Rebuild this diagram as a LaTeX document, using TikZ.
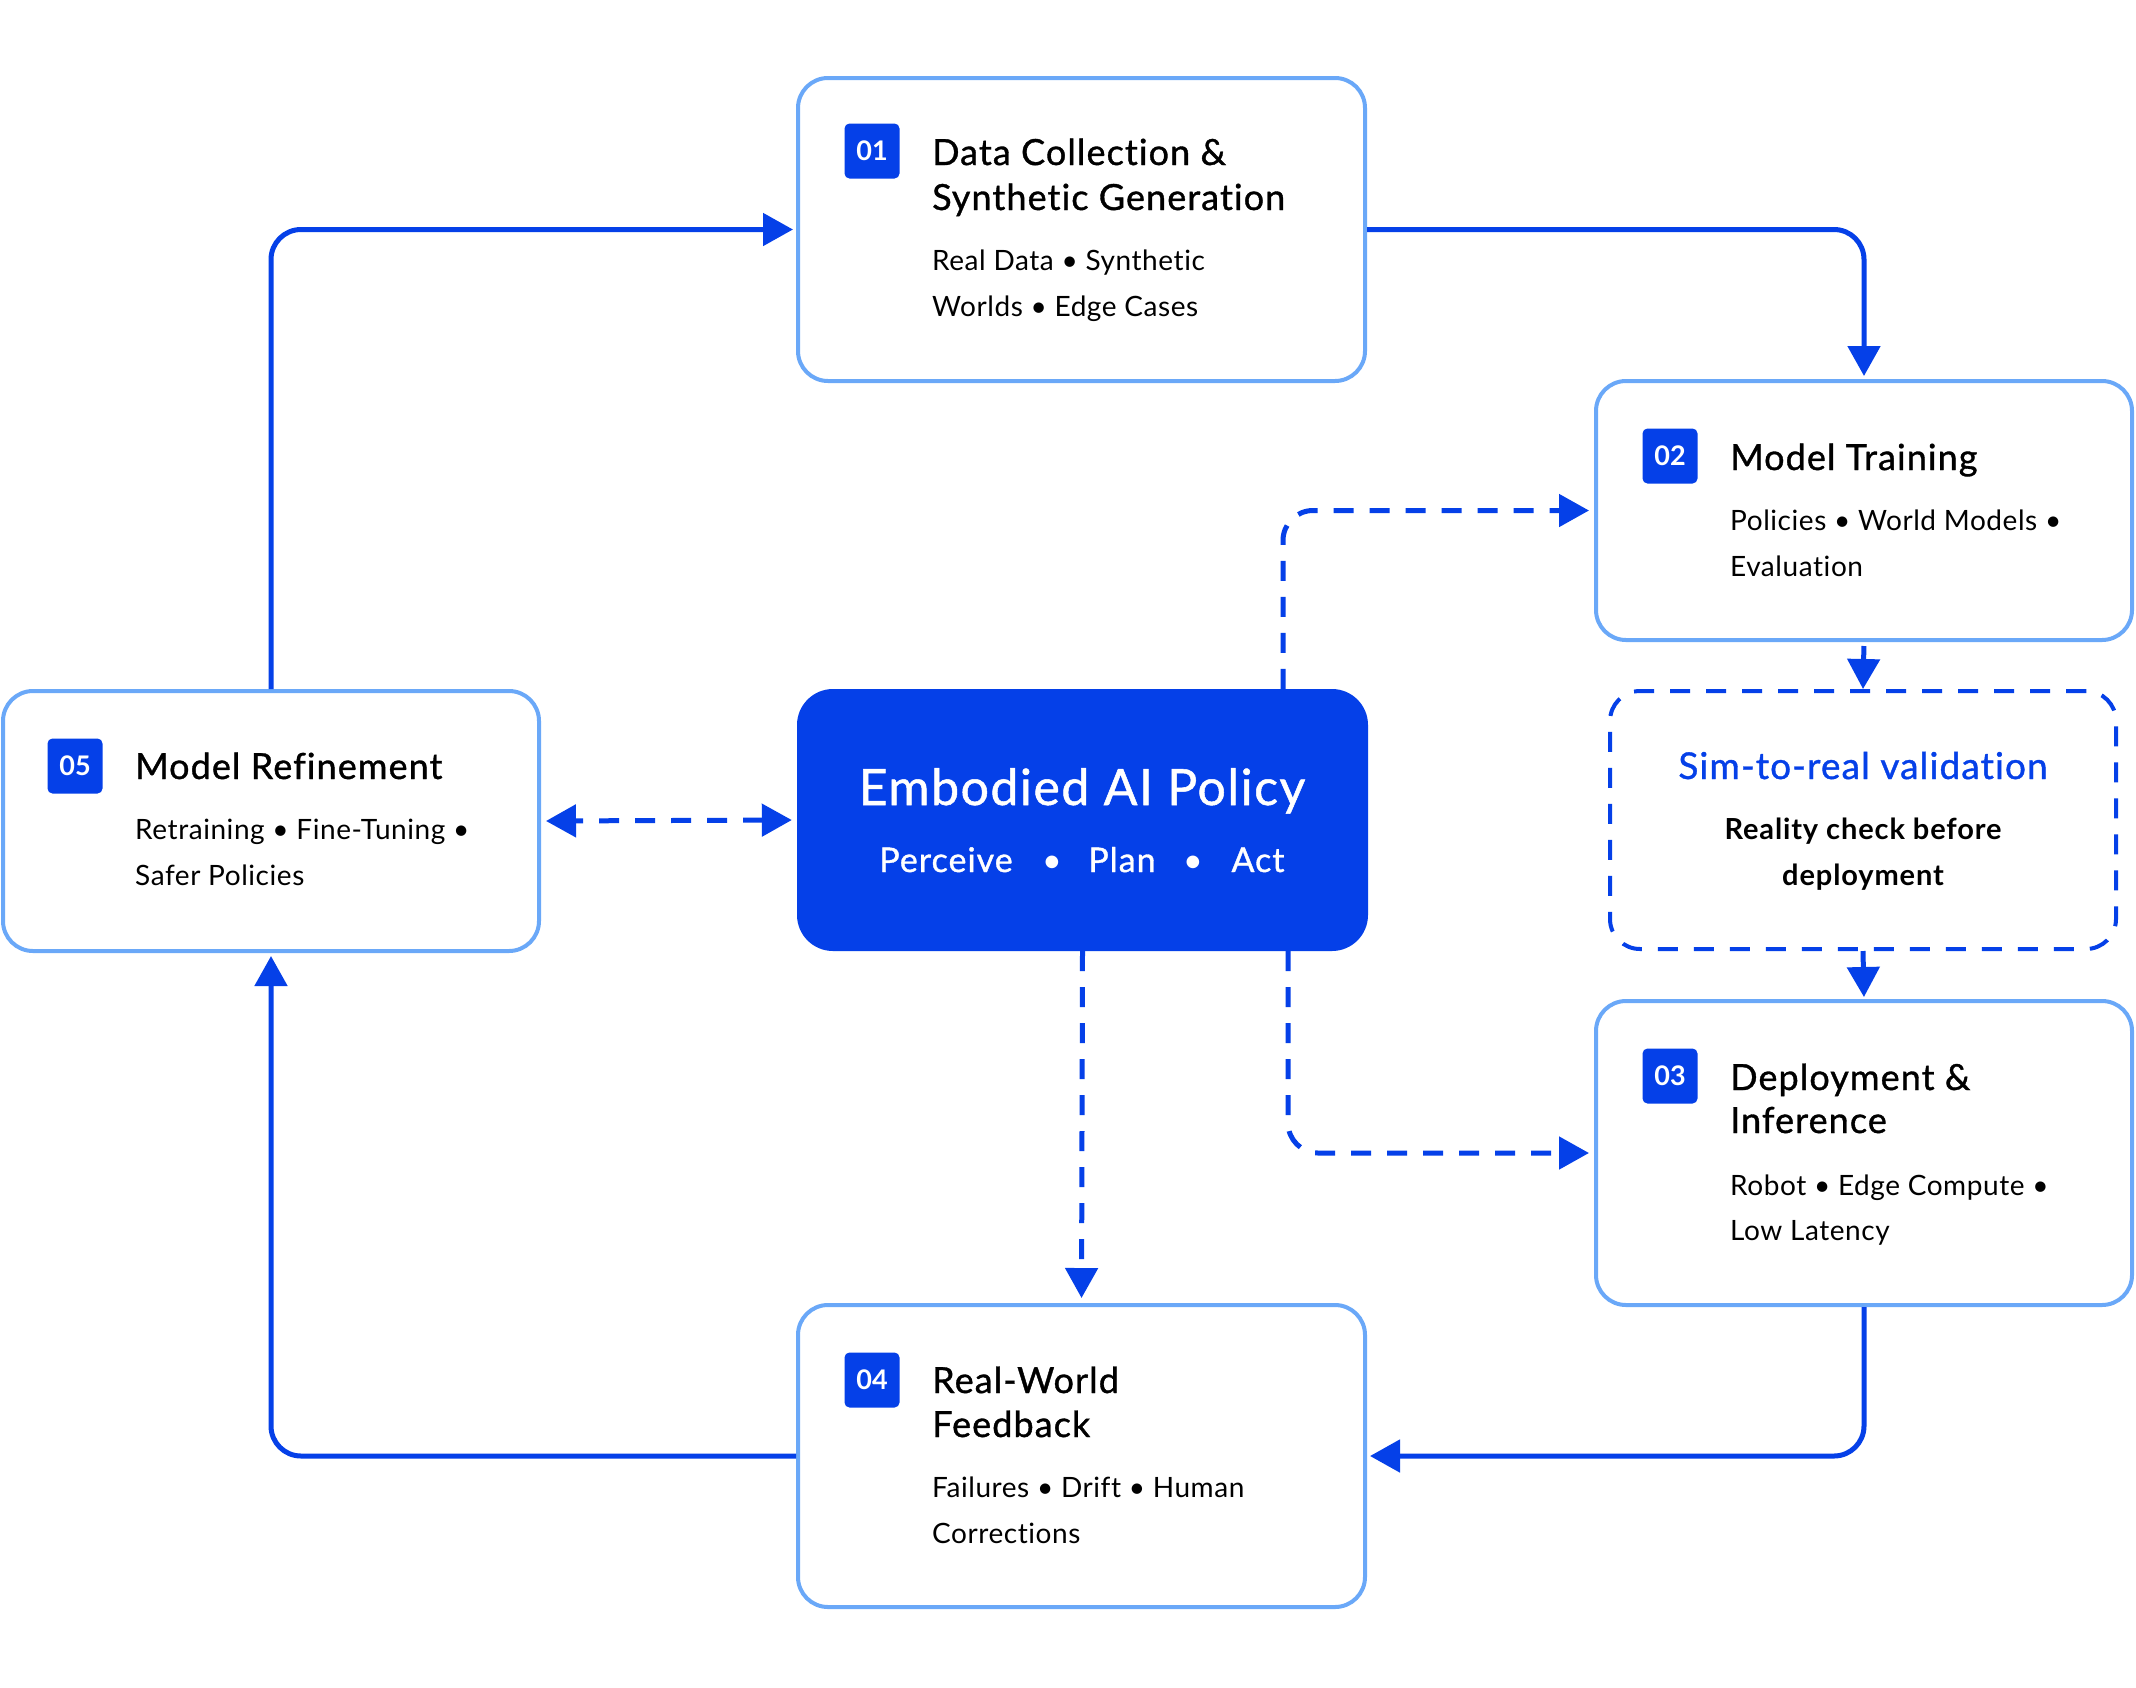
\documentclass[tikz,border=0pt]{standalone}
\usepackage{fontspec}
\setmainfont{Lato}[Ligatures=NoCommon]
\newfontfamily\medfont[FakeBold=1, LetterSpace=3, Ligatures=NoCommon]{Lato}
\newfontfamily\subfont[LetterSpace=2, Ligatures=NoCommon]{Lato}
\newfontfamily\boldfont[LetterSpace=3, Ligatures=NoCommon]{Lato Bold}
\usetikzlibrary{arrows.meta}
\definecolor{mainblue}{HTML}{0540E8}
\definecolor{lightblue}{HTML}{6AA8F8}
\begin{document}
\begin{tikzpicture}[x=1pt,y=-1pt,
  card/.style={draw=lightblue, line width=4pt, rounded corners=30pt, fill=white, inner sep=0pt},
  badge/.style={fill=mainblue, rounded corners=5pt, minimum width=55pt, minimum height=55pt, inner sep=0pt, text=white, font=\bfseries\fontsize{27}{27}\selectfont},
  ttl/.style={anchor=base west, inner sep=0pt, font=\medfont\fontsize{36}{40}\selectfont},
  sub/.style={anchor=base west, inner sep=0pt, font=\subfont\fontsize{28}{30}\selectfont},
  flow/.style={draw=mainblue, line width=5pt, rounded corners=30pt, -{Triangle[length=30pt,width=32pt]}, shorten >=3pt},
  dflow/.style={flow, dash pattern=on 20pt off 16pt, shorten >=5pt},
]
\useasboundingbox (0,0) rectangle (2136,1687);
\fill[white] (0,0) rectangle (2136,1687);

% Box 01
\node[card, minimum width=567pt, minimum height=303pt] (b1) at (1081.5,229.5) {};
\node[badge] (n1) at (872,151) {01};
\node[ttl] (t1a) at (932,165) {Data Collection \&};
\node[ttl] (t1b) at (932,210) {Synthetic Generation};
\node[sub] (s1a) at (932,270) {Real Data • Synthetic};
\node[sub] (s1b) at (932,316) {Worlds • Edge Cases};

% Box 02
\node[card, minimum width=536pt, minimum height=259pt] (b2) at (1864,510.5) {};
\node[badge] (n2) at (1670,456) {02};
\node[ttl] (t2a) at (1730,470) {Model Training};
\node[sub] (s2a) at (1730,530) {Policies • World Models •};
\node[sub] (s2b) at (1730,576) {Evaluation};

% Sim-to-real
\node[draw=mainblue, line width=4pt, dash pattern=on 20pt off 16pt, rounded corners=30pt, minimum width=506pt, minimum height=258pt, inner sep=0pt] (sim) at (1863,820) {};
\node[anchor=base, inner sep=0pt, text=mainblue, font=\medfont\fontsize{37}{40}\selectfont] (simt) at (1863,779) {Sim-to-real validation};
\node[anchor=base, inner sep=0pt, font=\boldfont\fontsize{29}{30}\selectfont] (sims1) at (1863,839) {Reality check before};
\node[anchor=base, inner sep=0pt, font=\boldfont\fontsize{29}{30}\selectfont] (sims2) at (1863,885) {deployment};

% Box 03
\node[card, minimum width=536pt, minimum height=304pt] (b3) at (1864,1153) {};
\node[badge] (n3) at (1670,1076) {03};
\node[ttl] (t3a) at (1730,1090) {Deployment \&};
\node[ttl] (t3b) at (1730,1133) {Inference};
\node[sub] (s3a) at (1730,1195) {Robot • Edge Compute •};
\node[sub] (s3b) at (1730,1240) {Low Latency};

% Box 04
\node[card, minimum width=567pt, minimum height=302pt] (b4) at (1081.5,1456) {};
\node[badge] (n4) at (872,1380) {04};
\node[ttl] (t4a) at (932,1393) {Real-World};
\node[ttl] (t4b) at (932,1437) {Feedback};
\node[sub] (s4a) at (932,1497) {Failures • Drift • Human};
\node[sub] (s4b) at (932,1543) {Corrections};

% Box 05
\node[card, minimum width=536pt, minimum height=260pt] (b5) at (271,821) {};
\node[badge] (n5) at (75,766) {05};
\node[ttl] (t5a) at (135,779) {Model Refinement};
\node[sub] (s5a) at (135,839) {Retraining • Fine-Tuning •};
\node[sub] (s5b) at (135,885) {Safer Policies};

% Core
\node[fill=mainblue, rounded corners=36pt, minimum width=571pt, minimum height=262pt, inner sep=0pt] (core) at (1082.5,820) {};
\node[anchor=base, inner sep=0pt, text=white, font=\medfont\fontsize{50}{52}\selectfont] (coret) at (1082,805) {Embodied AI Policy};
\node[anchor=base, inner sep=0pt, text=white, font=\medfont\fontsize{34}{36}\selectfont] (cp1) at (946,872) {Perceive};
\node[anchor=base, inner sep=0pt, text=white, font=\fontsize{34}{36}\selectfont] (cd1) at (1052,872) {•};
\node[anchor=base, inner sep=0pt, text=white, font=\medfont\fontsize{34}{36}\selectfont] (cp2) at (1122,872) {Plan};
\node[anchor=base, inner sep=0pt, text=white, font=\fontsize{34}{36}\selectfont] (cd2) at (1193,872) {•};
\node[anchor=base, inner sep=0pt, text=white, font=\medfont\fontsize{34}{36}\selectfont] (cp3) at (1258,872) {Act};

% Solid loop
\draw[flow] (b1.east) -| (b2.north);
\draw[flow] (b5.north) |- (b1.west);
\draw[flow] (b3.south) |- (b4.east);
\draw[flow] (b4.west) -| (b5.south);
\draw[flow, shorten >=0pt, shorten <=4pt] (b2.south) -- (sim.north);
\draw[flow, shorten >=2pt] (sim.south) -- (b3.north);

% Dashed
\draw[dflow] ([xshift=200.5pt]core.north) |- (b2.west);
\draw[dflow] ([xshift=205.5pt]core.south) |- (b3.west);
\draw[dflow] (core.south) -- (b4.north);
\draw[dflow, {Triangle[length=30pt,width=32pt]}-{Triangle[length=30pt,width=32pt]}, shorten <=5pt] (core.west) -- (b5.east);
\end{tikzpicture}
\end{document}
